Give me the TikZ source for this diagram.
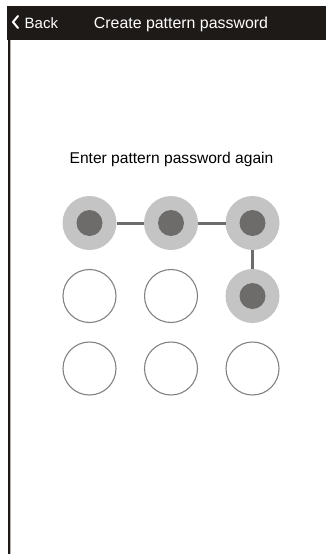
\documentclass[tikz,border=0pt]{standalone}
\usepackage{fontspec}
\setmainfont{Liberation Sans}
\definecolor{barblack}{HTML}{1E1A18}
\definecolor{ringgray}{HTML}{C4C4C4}
\definecolor{dotgray}{HTML}{6E6C6A}
\definecolor{edgegray}{HTML}{828282}
\tikzset{
	sel/.style={circle,fill=ringgray,inner sep=0,outer sep=0,minimum size=54pt,
		path picture={\fill[dotgray] (path picture bounding box.center) circle (13pt);}},
	free/.style={circle,draw=edgegray,line width=1.1pt,inner sep=0,outer sep=0,minimum size=53pt},
	link/.style={dotgray,line width=3pt}
}

\begin{document}
\begin{tikzpicture}[x=1pt,y=-1pt]
	\useasboundingbox (0,0) rectangle (326,554);
	% title bar and frame
	\fill[barblack] (7,6) rectangle (326,39.5);
	\draw[barblack,line width=2pt] (8.5,39) -- (8.5,554);
	\draw[gray!60,line width=0.8pt] (9.9,39.5) -- (9.9,554);
	\draw[white,line width=2pt,line cap=round,line join=round] (18,16) -- (13,22) -- (18,28);
	\node[white,font=\fontsize{15}{17}\selectfont,anchor=base west,inner sep=0] (back) at (24.5,28) {Back};
	\node[white,font=\fontsize{15.9}{18}\selectfont,anchor=base,inner sep=0] (title) at (181,28) {Create pattern password};
	\node[font=\fontsize{15.6}{18}\selectfont,anchor=base,inner sep=0] (hint) at (171.5,163.5) {Enter pattern password again};
	% pattern grid
	\node[sel] (1) at (89.5,223) {};
	\node[sel] (2) at (171,223) {};
	\node[sel] (3) at (252.5,223) {};
	\node[free] (4) at (89.5,296) {};
	\node[free] (5) at (171,296) {};
	\node[sel] (6) at (252.5,296) {};
	\node[free] (7) at (89.5,368.5) {};
	\node[free] (8) at (171,368.5) {};
	\node[free] (9) at (252.5,368.5) {};
	\draw[link] (1) -- (2) -- (3) -- (6);
\end{tikzpicture}
\end{document}
